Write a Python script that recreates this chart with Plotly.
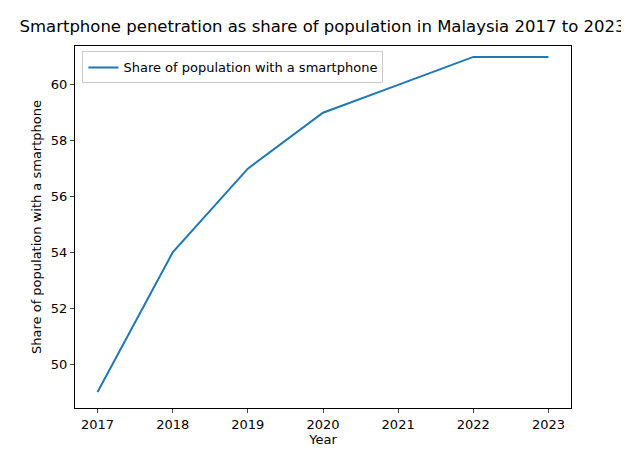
import plotly.graph_objects as go

years = [2017, 2018, 2019, 2020, 2021, 2022, 2023]
share = [49, 54, 57, 59, 60, 61, 61]
series_name = "Share of population with a smartphone"

fig = go.Figure(go.Scatter(x=years, y=share, mode="lines", name=series_name,
                           line=dict(color="#1f77b4", width=2)))
fig.update_layout(
    width=629, height=455, margin=dict(l=67, r=66, t=38, b=55, autoexpand=False),
    paper_bgcolor="white", plot_bgcolor="white",
    font=dict(family="DejaVu Sans", size=13, color="black"),
    title=dict(text="Smartphone penetration as share of population in Malaysia 2017 to 2023",
               x=0.5, xanchor="center", y=0.96, yanchor="middle", font=dict(size=16.5)),
    showlegend=True,
    legend=dict(x=0.015, y=0.985, xanchor="left", yanchor="top", bordercolor="#cccccc",
                borderwidth=1, bgcolor="rgba(255,255,255,0.8)", font=dict(size=13)),
    xaxis=dict(title=dict(text="Year", standoff=4, font=dict(size=13)), range=[2016.7, 2023.3],
               tickmode="array", tickvals=years, showgrid=False, zeroline=False, showline=True,
               mirror=True, linecolor="black", ticks="outside", ticklen=4, automargin=False,
               tickfont=dict(size=13)),
    yaxis=dict(title=dict(text="Share of population with a smartphone", standoff=6, font=dict(size=13)),
               range=[48.43, 61.39], tickvals=[50, 52, 54, 56, 58, 60], showgrid=False,
               zeroline=False, showline=True, mirror=True, linecolor="black",
               ticks="outside", ticklen=4, automargin=False, tickfont=dict(size=13)),
)
fig.write_html("out.html")
